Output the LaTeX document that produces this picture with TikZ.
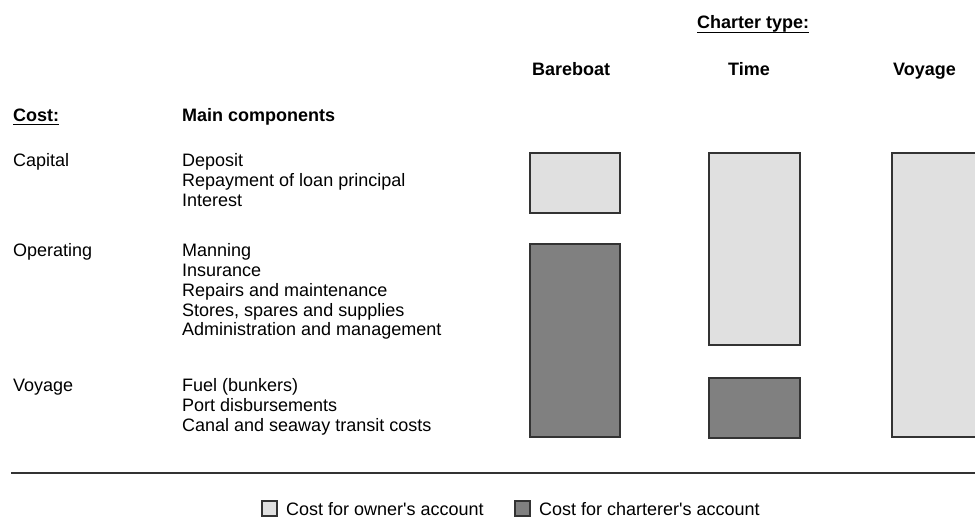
\documentclass[tikz,border=0pt]{standalone}
\usepackage{fontspec}
\setmainfont{Liberation Sans}
\usetikzlibrary{calc}
\definecolor{ownergray}{HTML}{E0E0E0}
\definecolor{chartgray}{HTML}{808080}
\tikzset{
  txt/.style={anchor=base west,inner sep=0pt,font=\fontsize{18}{20}\selectfont},
  hdr/.style={txt,font=\fontsize{18}{20}\selectfont\bfseries},
  ownerbar/.style={draw=black!80,line width=1.3pt,fill=ownergray},
  charterbar/.style={draw=black!80,line width=1.3pt,fill=chartgray},
  uline/.style={line width=1.2pt}
}
\begin{document}
\begin{tikzpicture}[x=1pt,y=1pt]
   \begin{scope}[yscale=-1]
   \useasboundingbox (0,0) rectangle (975,518);
   % headings
   \node[hdr] (charter) at (697,29) {Charter type:};
   \draw[uline] ($(charter.base west)+(0,3.5)$) -- ($(charter.base east)+(0,3.5)$);
   \node[hdr] (bareboat) at (532,76) {Bareboat};
   \node[hdr] (time) at (728,76) {Time};
   \node[hdr] (voyage) at (893,76) {Voyage};
   \node[hdr] (cost) at (13,121.7) {Cost:};
   \draw[uline] ($(cost.base west)+(0,3)$) -- ($(cost.base east)+(0,3)$);
   \node[hdr] (main) at (182,121.7) {Main components};
   % cost rows
   \node[txt] (capital) at (13,167) {Capital};
   \foreach \t [count=\i] in {Deposit,Repayment of loan principal,Interest}
      \node[txt] (cap\i) at (182,167+19.7*\i-19.7) {\t};
   \node[txt] (operating) at (13,257) {Operating};
   \foreach \t [count=\i] in {Manning,Insurance,Repairs and maintenance,
      {Stores, spares and supplies},Administration and management}
      \node[txt] (op\i) at (182,257+19.7*\i-19.7) {\t};
   \node[txt] (voyrow) at (13,391.7) {Voyage};
   \foreach \t [count=\i] in {Fuel (bunkers),Port disbursements,Canal and seaway transit costs}
      \node[txt] (voy\i) at (182,391.7+19.7*\i-19.7) {\t};
   % bars
   \draw[ownerbar] (530,153) rectangle (620,213);
   \draw[charterbar] (530,244) rectangle (620,437);
   \draw[ownerbar] (709,153) rectangle (800,345);
   \draw[charterbar] (709,378) rectangle (800,438);
   \draw[ownerbar] (892,153) rectangle (990,437);
   % rule and legend
   \draw[line width=1.5pt,black!80] (11,473) -- (975,473);
   \draw[ownerbar,line width=1.1pt] (262,501) rectangle (277,516);
   \node[txt] (ownerkey) at (286,515) {Cost for owner\textquotesingle s account};
   \draw[charterbar,line width=1.1pt] (515,501) rectangle (530,516);
   \node[txt] (charterkey) at (539,515) {Cost for charterer\textquotesingle s account};
   \end{scope}
\end{tikzpicture}
\end{document}
